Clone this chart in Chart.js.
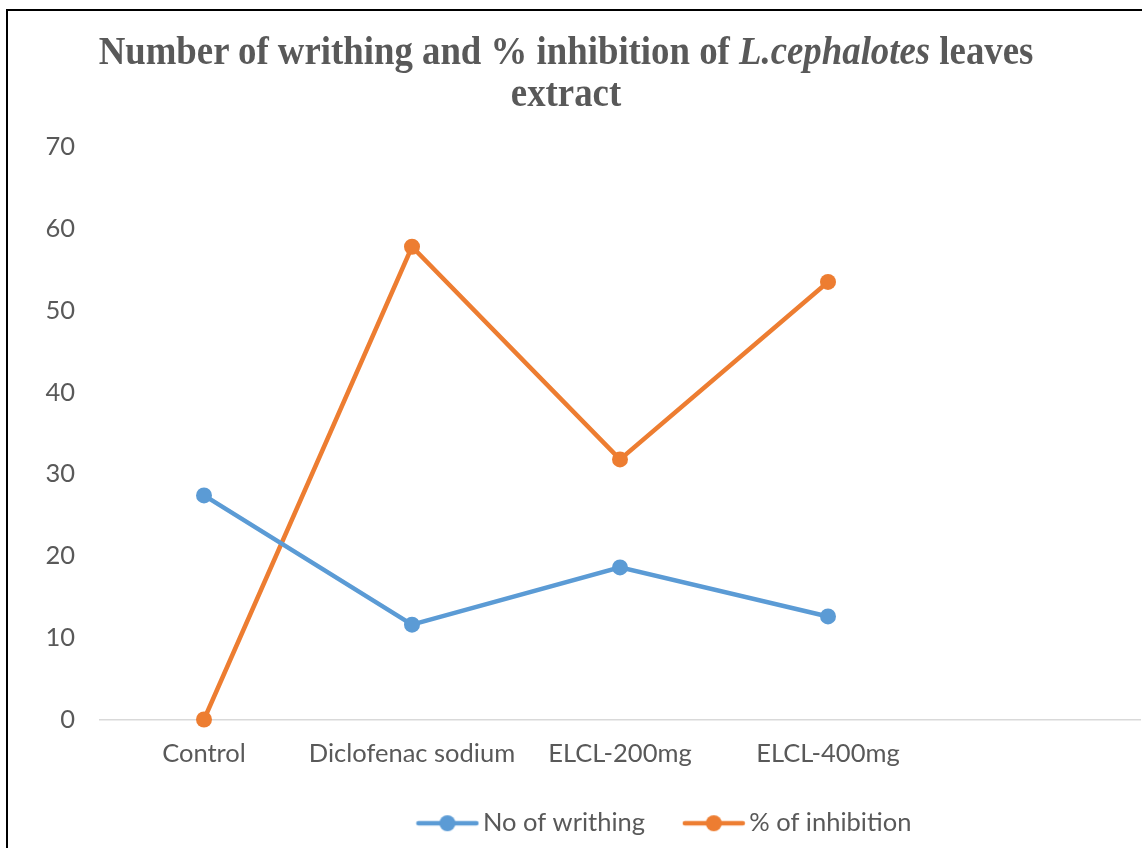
<!DOCTYPE html>
<html>
<head>
<meta charset="utf-8">
<script src="https://cdn.jsdelivr.net/npm/chart.js@4.4.1/dist/chart.umd.min.js"></script>
<style>
  html, body { margin: 0; padding: 0; background: #fff; }
  #wrap { position: relative; width: 1142px; height: 848px; overflow: hidden; }
  #frame { position: absolute; left: 6px; top: 9px; width: 1200px; height: 900px;
           border-left: 2px solid #000; border-top: 2px solid #000; }
  #title { position: absolute; left: 0; top: 30px; width: 1132px; text-align: center;
           font-family: "Liberation Serif", "Times New Roman", serif; font-weight: bold;
           font-size: 40px; line-height: 42px; color: #595959; }
  #title span.t { display: inline-block; transform: scaleX(0.92); transform-origin: center; }
  canvas { position: absolute; left: 0; top: 0; }
</style>
</head>
<body>
<div id="wrap">
  <div id="frame"></div>
  <canvas id="c" width="1142" height="848"></canvas>
  <div id="title"><span class="t">Number of writhing and % inhibition of <i>L.cephalotes</i> leaves<br>extract</span></div>
</div>
<script>
const categories = ["Control", "Diclofenac sodium", "ELCL-200mg", "ELCL-400mg", ""];
const writhing = [27.4, 11.6, 18.6, 12.6, null];
const inhibition = [0, 57.8, 31.8, 53.5, null];
const yTicks = [0, 10, 20, 30, 40, 50, 60, 70];

const BLUE = "#5B9BD5", ORANGE = "#ED7D31", TEXT = "#595959";
const FONT = "Lato";
const FS = 25.5;
const LEGEND_SHIFT = 98;

function legendIcon(color) {
  const c = document.createElement("canvas");
  c.width = 64; c.height = 20;
  const x = c.getContext("2d");
  x.strokeStyle = color; x.lineWidth = 4.5; x.lineCap = "round";
  x.beginPath(); x.moveTo(3, 10); x.lineTo(61, 10); x.stroke();
  x.fillStyle = color; x.beginPath(); x.arc(32, 10, 8, 0, Math.PI * 2); x.fill();
  return c;
}

const shiftLegend = {
  id: "shiftLegend",
  afterLayout(chart) {
    if (chart.legend) { chart.legend.left += LEGEND_SHIFT; chart.legend.right += LEGEND_SHIFT; }
  }
};

new Chart(document.getElementById("c"), {
  type: "line",
  data: {
    labels: categories,
    datasets: [
      { label: "No of writhing", data: writhing, borderColor: BLUE, backgroundColor: BLUE,
        borderWidth: 4.5, pointRadius: 8, pointHoverRadius: 8, pointStyle: "circle",
        pointBorderWidth: 0, tension: 0, clip: false },
      { label: "% of inhibition", data: inhibition, borderColor: ORANGE, backgroundColor: ORANGE,
        borderWidth: 4.5, pointRadius: 8, pointHoverRadius: 8, pointStyle: "circle",
        pointBorderWidth: 0, tension: 0, clip: false }
    ]
  },
  plugins: [shiftLegend],
  options: {
    responsive: false,
    animation: false,
    layout: { autoPadding: false, padding: { top: 147, left: 0, right: 2, bottom: 2 } },
    plugins: {
      title: { display: false },
      tooltip: { enabled: false },
      legend: {
        position: "bottom",
        labels: {
          usePointStyle: true,
          pointStyleWidth: 45.5,
          boxHeight: 20,
          generateLabels: (chart) => chart.data.datasets.map((ds, i) => ({
            text: ds.label, pointStyle: legendIcon(ds.borderColor), fillStyle: ds.borderColor,
            strokeStyle: ds.borderColor, lineWidth: 0, datasetIndex: i, fontColor: TEXT
          })),
          color: TEXT,
          font: { family: FONT, size: FS },
          padding: 46
        }
      }
    },
    scales: {
      x: {
        offset: true,
        grid: { display: false, drawTicks: false },
        border: { display: true, color: "#D9D9D9", width: 1.5 },
        ticks: { color: TEXT, font: { family: FONT, size: FS }, padding: 19, maxRotation: 0, autoSkip: false },
        afterFit: (s) => {
          s.height = 45; s.paddingLeft = 0; s.paddingRight = 0;
          s._computeLabelArea = () => undefined;
        }
      },
      y: {
        min: 0, max: 70,
        afterBuildTicks: (s) => { s.ticks = yTicks.map(v => ({ value: v })); },
        grid: { display: false, drawTicks: false },
        border: { display: false },
        ticks: { color: TEXT, font: { family: FONT, size: FS }, padding: 25 },
        afterFit: (s) => { s.width = 100; }
      }
    }
  }
});
</script>
</body>
</html>
